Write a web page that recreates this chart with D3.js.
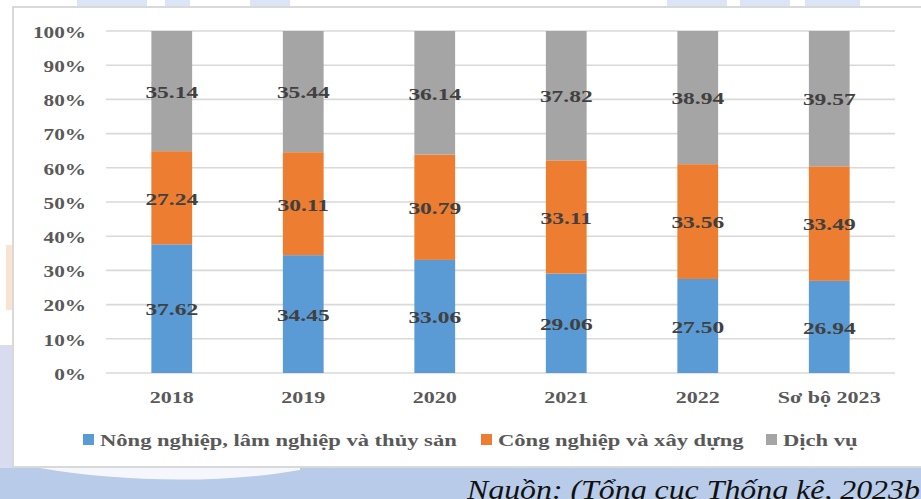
<!DOCTYPE html>
<html>
<head>
<meta charset="utf-8">
<script src="https://cdn.jsdelivr.net/npm/d3@7/dist/d3.min.js"></script>
<style>
  html, body { margin: 0; padding: 0; background: #ffffff; }
  svg { display: block; }
</style>
</head>
<body>
<svg id="chart" width="921" height="499" font-family="'Liberation Serif', 'DejaVu Serif', serif"></svg>
<script>
// GDP structure by sector (%), 2018 – preliminary 2023
const years = ["2018", "2019", "2020", "2021", "2022", "Sơ bộ 2023"];
const agriculture = [37.62, 34.45, 33.06, 29.06, 27.50, 26.94];
const industry    = [27.24, 30.11, 30.79, 33.11, 33.56, 33.49];
const services    = [35.14, 35.44, 36.14, 37.82, 38.94, 39.57];
const seriesNames = ["Nông nghiệp, lâm nghiệp và thủy sản", "Công nghiệp và xây dựng", "Dịch vụ"];
const seriesColors = ["#5b9bd5", "#ed7d31", "#a5a5a5"];
const yTicks = [0, 0.1, 0.2, 0.3, 0.4, 0.5, 0.6, 0.7, 0.8, 0.9, 1.0];
const sourceNote = "Nguồn: (Tổng cục Thống kê, 2023b";

const FONT = "'Liberation Serif', 'DejaVu Serif', serif";
const svg = d3.select("#chart");
const W = 921, H = 499;

// page background around the chart frame
svg.append("rect").attr("x", 0).attr("y", 468).attr("width", W).attr("height", H - 468).attr("fill", "#b8cbe8");
svg.append("path")
  .attr("d", "M40,468 C120,482 220,484 300,470 L300,468 Z")
  .attr("fill", "#ffffff").attr("opacity", 0.85);
svg.append("rect").attr("x", 0).attr("y", 345).attr("width", 12).attr("height", 123).attr("fill", "#cfd3ec").attr("opacity", 0.8);
svg.append("rect").attr("x", 6).attr("y", 245).attr("width", 6).attr("height", 65).attr("fill", "#fbe3d2");
// faint page decoration along the top edge
[[77, 70], [165, 25], [250, 40], [667, 60], [740, 50], [805, 55]].forEach(([bx, bw]) => {
  svg.append("rect").attr("x", bx).attr("y", 0).attr("width", bw).attr("height", 6).attr("fill", "#c3d3ee").attr("opacity", 0.6);
});

// chart frame
svg.append("path")
  .attr("d", `M${W + 2},7 H13 V467 H${W + 2}`)
  .attr("fill", "#ffffff").attr("stroke", "#d9d9d9").attr("stroke-width", 2);

const x = d3.scaleBand().domain(years).range([106, 895]).paddingInner(0.69).paddingOuter(0.345);
const y = d3.scaleLinear().domain([0, 1]).range([373, 31]);

// horizontally stretched text helper
function sText(g, px, py, str, opts) {
  return g.append("g").attr("transform", `translate(${px},${py}) scale(${opts.sx},1)`)
    .append("text")
    .attr("font-family", FONT)
    .attr("text-anchor", opts.anchor || "middle")
    .attr("dominant-baseline", "central")
    .attr("font-size", opts.size)
    .attr("font-weight", opts.weight || "bold")
    .attr("fill", opts.fill)
    .text(str);
}

// gridlines
svg.append("g").selectAll("line").data(yTicks).join("line")
  .attr("x1", 106).attr("x2", 895)
  .attr("y1", d => y(d)).attr("y2", d => y(d))
  .attr("stroke", "#d9d9d9").attr("stroke-width", 1.6);

// y tick labels
const yAxisG = svg.append("g");
yTicks.forEach(t => {
  sText(yAxisG, 86, y(t) + 1, d3.format(".0%")(t), { sx: 1.25, size: 17, fill: "#595959", anchor: "end" });
});

// stacked, normalised bars
const rows = years.map((yr, i) => ({ year: yr, a: agriculture[i], b: industry[i], c: services[i] }));
const stack = d3.stack().keys(["a", "b", "c"]).offset(d3.stackOffsetExpand);
const layers = stack(rows);
const rawValues = [agriculture, industry, services];

const barsG = svg.append("g");
layers.forEach((layer, si) => {
  barsG.append("g").attr("fill", seriesColors[si]).selectAll("rect").data(layer).join("rect")
    .attr("x", d => x(d.data.year))
    .attr("width", x.bandwidth())
    .attr("y", d => y(d[1]))
    .attr("height", d => y(d[0]) - y(d[1]));
});

// value labels
const labelsG = svg.append("g");
layers.forEach((layer, si) => {
  layer.forEach((d, i) => {
    const cx = x(d.data.year) + x.bandwidth() / 2;
    const cy = (y(d[0]) + y(d[1])) / 2 + 1;
    sText(labelsG, cx, cy, rawValues[si][i].toFixed(2), { sx: 1.38, size: 17, fill: "#404040" });
  });
});

// category labels
const xAxisG = svg.append("g");
years.forEach(yr => {
  sText(xAxisG, x(yr) + x.bandwidth() / 2, 397, yr, { sx: 1.26, size: 17.5, fill: "#595959" });
});

// legend
const legendG = svg.append("g");
const legendX = [83, 481, 766];
seriesNames.forEach((name, i) => {
  legendG.append("rect").attr("x", legendX[i]).attr("y", 434).attr("width", 11).attr("height", 11).attr("fill", seriesColors[i]);
  sText(legendG, legendX[i] + 17, 440, name, { sx: 1.29, size: 17.5, fill: "#595959", anchor: "start" });
});

// source note
const noteG = svg.append("g").attr("transform", "translate(467,499) scale(1.18,1)");
noteG.append("text")
  .attr("font-family", FONT)
  .attr("font-size", 27).attr("font-style", "italic").attr("fill", "#111111")
  .text(sourceNote);
</script>
</body>
</html>
